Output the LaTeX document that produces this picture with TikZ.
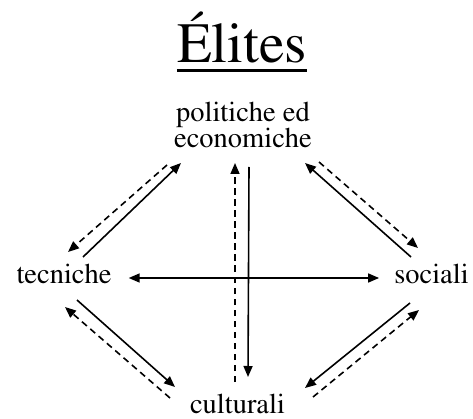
\documentclass[tikz,border=0pt]{standalone}
\usepackage[T1]{fontenc}
\usepackage{mathptmx}
\usetikzlibrary{arrows.meta}

\begin{document}
\begin{tikzpicture}[x=1pt, y=-1pt,
		lbl/.style={inner sep=0pt, font=\fontsize{28.5}{26}\selectfont},
		solidarrow/.style={line width=1.6pt, -{Triangle[length=11pt,width=9pt]}},
		dasharrow/.style={line width=1.6pt, dash pattern=on 6.5pt off 4.5pt, -{Triangle[length=11pt,width=9pt]}},
		bothway/.style={line width=1.6pt, {Triangle[length=11pt,width=9pt]}-{Triangle[length=11pt,width=9pt]}}]
		\useasboundingbox (0,0) rectangle (473,419);
		% titolo
		\node[inner sep=0pt, anchor=base, font=\fontsize{57}{60}\selectfont] (title) at (242,63) {\'Elites};
		\draw[line width=3pt] ([shift={(0,7.5)}]title.base west) -- ([shift={(0,7.5)}]title.base east);
		% i quattro tipi
		\node[lbl, anchor=south, align=center, text depth=0pt] (pol) at (243,148) {politiche ed\\economiche};
		\node[lbl, anchor=base] (tec) at (64,283) {tecniche};
		\node[lbl, anchor=base] (soc) at (431.5,283) {sociali};
		\node[lbl, anchor=base] (cul) at (237.5,413) {culturali};
		% frecce piene
		\foreach \from/\fx/\fy/\to/\tx/\ty in {
			tec.base/19/-26/pol.south/-62/15,
			soc.base/-20.5/-26/pol.south/62/15,
			pol.south/6/19/cul.base/10.5/-36,
			tec.base/13/17/cul.base/-62.5/-26,
			soc.base/-21.5/20/cul.base/67.5/-25
		}{
			\draw[solidarrow] ([shift={(\fx,\fy)}]\from) -- ([shift={(\tx,\ty)}]\to);
		}
		% frecce tratteggiate
		\foreach \from/\fx/\fy/\to/\tx/\ty in {
			pol.south/-76/17/tec.base/4/-31,
			pol.south/76/14/soc.base/-13.5/-35,
			cul.base/-2.5/-31/pol.south/-8/15,
			cul.base/-67.5/-15/tec.base/1/24,
			cul.base/75.5/-16/soc.base/-12.5/27
		}{
			\draw[dasharrow] ([shift={(\fx,\fy)}]\from) -- ([shift={(\tx,\ty)}]\to);
		}
		\draw[bothway] ([shift={(17,-5)}]tec.base east) -- ([shift={(-15,-5)}]soc.base west);
	\end{tikzpicture}
\end{document}
